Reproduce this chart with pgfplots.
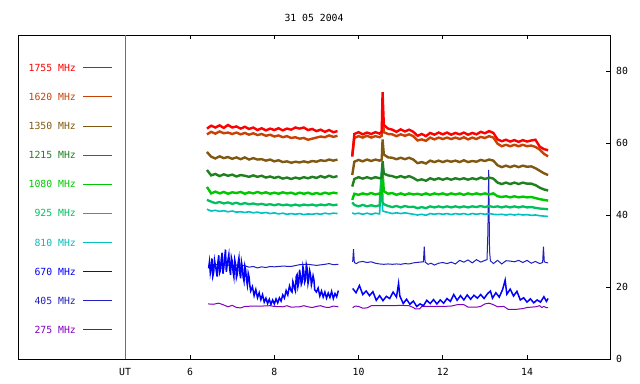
\documentclass[border=0pt]{standalone}
\usepackage{pgfplots}
\usepackage{pgfplotstable}
\pgfplotsset{compat=1.18}
\usepackage{fontspec}
\newfontfamily\mono{DejaVu Sans Mono}
\newcommand\lf{\mono\fontsize{9.8bp}{11bp}\selectfont}
\definecolor{c1755}{RGB}{255,0,0}
\definecolor{c1620}{RGB}{200,66,4}
\definecolor{c1350}{RGB}{128,88,16}
\definecolor{c1215}{RGB}{32,128,32}
\definecolor{c1080}{RGB}{0,200,0}
\definecolor{c925}{RGB}{0,192,96}
\definecolor{c810}{RGB}{0,192,192}
\definecolor{c670}{RGB}{0,0,255}
\definecolor{c405}{RGB}{32,32,192}
\definecolor{c275}{RGB}{128,0,192}
\definecolor{utgray}{RGB}{110,110,110}

\pgfplotstableread{
x     a     b     c     d     e     f     g
6.40 64.0 62.4 57.5 52.5 47.8 44.2 41.6
6.50 64.8 63.1 56.2 51.0 46.0 43.7 41.1
6.60 64.3 62.6 55.7 51.4 46.5 43.3 41.3
6.70 64.9 63.2 56.3 50.8 46.0 43.6 41.0
6.80 64.2 62.7 55.8 51.3 46.4 43.2 41.2
6.90 65.0 62.9 56.1 50.9 45.9 43.5 40.9
7.00 64.3 62.5 55.6 51.2 46.3 43.1 41.1
7.10 64.6 62.9 56.0 50.7 46.1 43.4 40.8
7.20 64.0 62.4 55.5 51.1 46.4 43.0 40.9
7.30 64.5 62.8 56.0 50.9 45.9 43.3 40.7
7.40 63.9 62.3 55.4 50.6 46.3 43.0 40.9
7.50 64.3 62.7 55.8 51.0 46.0 43.2 40.6
7.60 63.6 62.2 55.4 50.6 46.4 42.9 40.8
7.70 64.1 62.5 55.5 50.9 46.0 43.1 40.5
7.80 63.5 62.0 55.1 50.4 46.3 42.8 40.7
7.90 64.0 62.3 55.4 50.7 45.9 43.0 40.4
8.00 63.6 61.8 54.9 50.3 46.2 42.7 40.6
8.10 64.1 62.1 55.2 50.6 45.9 43.0 40.3
8.20 63.5 61.6 54.7 50.1 46.3 42.7 40.5
8.30 64.0 61.9 54.9 50.4 46.0 42.9 40.2
8.40 63.7 61.4 54.5 50.0 46.2 42.6 40.4
8.50 64.3 61.6 54.8 50.4 45.8 42.9 40.2
8.60 64.0 61.2 54.6 50.1 46.2 42.6 40.4
8.70 64.3 61.4 54.9 50.5 45.9 42.9 40.1
8.80 63.6 60.9 54.6 50.2 46.2 42.7 40.3
8.90 63.9 61.2 55.0 50.6 45.8 42.9 40.2
9.00 63.3 61.5 54.8 50.3 46.1 42.6 40.4
9.10 63.7 61.8 55.2 50.8 45.8 42.9 40.2
9.20 63.1 61.6 55.0 50.4 46.2 42.7 40.5
9.30 63.6 62.1 55.4 50.9 45.9 43.0 40.3
9.40 63.0 61.7 55.1 50.5 46.2 42.7 40.5
9.50 63.3 62.0 55.4 50.8 46.0 42.9 40.4
9.60 nan nan nan nan nan nan nan
9.85 56.2 56.5 51.1 47.9 44.2 43.5 40.6
9.90 62.5 61.4 54.8 50.0 45.9 42.8 40.3
10.00 63.0 61.9 55.3 50.5 45.6 42.4 40.5
10.10 62.4 61.5 54.9 50.1 46.0 42.8 40.2
10.20 62.9 62.0 55.4 50.5 45.7 42.4 40.5
10.30 62.5 61.5 55.0 50.1 46.1 42.7 40.2
10.40 63.0 61.9 55.4 50.5 45.7 42.4 40.5
10.50 62.6 61.6 55.1 50.2 46.0 42.7 40.3
10.55 63.2 62.0 55.4 50.4 46.0 52.0 53.4
10.57 74.1 68.2 61.0 55.0 52.0 43.5 41.2
10.60 65.0 63.0 56.8 51.5 46.6 43.0 41.0
10.70 64.0 62.5 56.0 51.0 45.9 42.5 40.7
10.80 63.7 62.4 55.9 50.8 46.1 42.2 40.4
10.90 63.1 61.9 55.5 50.4 45.6 42.5 40.6
11.00 63.8 62.4 55.9 50.8 46.0 42.1 40.4
11.10 63.2 62.0 55.5 50.4 45.6 42.5 40.6
11.20 63.7 62.4 55.9 50.8 46.0 42.2 40.4
11.30 63.1 61.9 55.4 50.3 45.7 42.3 40.2
11.40 62.0 60.7 54.4 49.6 45.9 41.9 40.0
11.50 62.5 61.0 54.7 49.9 45.6 42.2 40.2
11.60 61.9 60.6 54.3 49.5 46.0 41.9 39.9
11.70 62.8 61.5 55.1 50.2 45.6 42.4 40.4
11.80 62.3 61.0 54.7 49.8 46.0 42.1 40.2
11.90 62.9 61.5 55.1 50.2 45.7 42.4 40.4
12.00 62.4 61.1 54.7 49.8 46.0 42.1 40.2
12.10 62.9 61.5 55.1 50.2 45.6 42.4 40.4
12.20 62.3 61.1 54.8 49.8 46.0 42.1 40.1
12.30 62.8 61.5 55.1 50.2 45.7 42.4 40.4
12.40 62.4 61.1 54.7 49.9 46.0 42.1 40.2
12.50 62.9 61.6 55.2 50.2 45.6 42.4 40.4
12.60 62.3 61.0 54.7 49.8 46.0 42.1 40.1
12.70 62.8 61.5 55.0 50.2 45.7 42.4 40.4
12.80 62.4 61.1 54.8 49.9 46.0 42.2 40.2
12.90 63.1 61.7 55.3 50.4 45.7 42.5 40.4
13.00 62.7 61.4 55.0 50.0 46.0 42.2 40.2
13.10 63.3 61.9 55.4 50.4 45.7 42.5 40.4
13.20 62.8 61.5 55.1 50.1 46.0 42.2 40.2
13.30 61.0 59.8 53.8 49.0 45.2 42.4 40.1
13.40 60.5 59.1 53.3 48.6 45.0 42.1 40.2
13.50 60.9 59.5 53.7 49.0 45.2 42.4 40.0
13.60 60.4 59.1 53.3 48.6 44.9 42.1 40.2
13.70 60.8 59.5 53.7 49.0 45.2 42.4 40.0
13.80 60.3 59.1 53.3 48.6 44.9 42.1 40.2
13.90 60.8 59.5 53.7 49.0 45.1 42.4 40.0
14.00 60.4 59.1 53.4 48.7 44.9 42.1 40.1
14.10 60.7 59.3 53.5 48.7 45.0 42.2 39.9
14.20 60.9 58.9 53.0 48.3 44.7 42.0 40.0
14.30 59.0 58.2 52.3 47.6 44.4 41.8 39.8
14.40 58.3 57.0 51.6 47.1 44.2 41.7 39.7
14.50 58.0 56.3 51.1 46.8 44.0 41.6 39.6
}\hf

\pgfplotstableread{
x y
6.44 25.2
6.46 27.0
6.48 23.8
6.50 25.1
6.52 27.9
6.54 23.0
6.56 24.1
6.58 27.4
6.60 26.0
6.62 24.7
6.64 22.9
6.66 26.8
6.68 28.8
6.70 23.9
6.72 24.6
6.74 27.8
6.76 29.5
6.78 23.7
6.80 25.3
6.82 28.0
6.84 30.4
6.86 24.2
6.88 26.1
6.90 27.6
6.92 29.0
6.94 25.0
6.96 23.4
6.98 28.2
7.00 27.2
7.02 24.3
7.04 22.8
7.06 27.5
7.08 26.3
7.10 22.6
7.12 23.5
7.14 26.7
7.16 28.1
7.18 24.0
7.20 22.4
7.22 26.9
7.24 25.5
7.26 22.7
7.28 21.6
7.30 25.8
7.32 24.7
7.34 21.9
7.36 20.5
7.38 23.8
7.40 22.8
7.42 20.3
7.44 18.9
7.48 20.1
7.52 17.6
7.56 19.3
7.60 17.0
7.64 18.4
7.68 16.5
7.72 17.9
7.76 15.8
7.80 16.9
7.84 15.4
7.88 16.6
7.92 15.2
7.96 16.4
8.00 15.3
8.04 16.7
8.08 15.6
8.12 17.0
8.16 16.1
8.20 17.8
8.24 16.9
8.28 19.0
8.32 17.8
8.36 20.3
8.40 18.9
8.42 18.6
8.44 21.5
8.46 20.7
8.48 19.6
8.50 18.9
8.52 22.9
8.54 23.4
8.56 20.1
8.58 21.2
8.60 24.8
8.62 23.0
8.64 20.7
8.66 21.4
8.68 25.6
8.70 24.3
8.72 21.3
8.74 22.0
8.76 26.2
8.78 25.1
8.80 21.0
8.82 22.3
8.84 24.5
8.86 23.3
8.88 20.6
8.90 21.7
8.92 23.1
8.94 22.0
8.96 19.2
9.00 18.6
9.04 19.7
9.08 17.5
9.12 18.9
9.16 17.2
9.20 18.6
9.24 16.9
9.28 18.3
9.32 17.1
9.36 18.8
9.40 16.8
9.44 18.2
9.48 17.3
9.52 19.0
9.60 nan
9.86 19.6
9.94 18.4
10.02 20.4
10.10 17.9
10.18 18.9
10.26 17.6
10.34 18.7
10.42 16.3
10.50 17.6
10.58 16.2
10.66 17.4
10.74 16.8
10.82 18.6
10.90 17.2
10.95 21.0
10.98 17.5
11.06 15.4
11.14 16.6
11.22 15.2
11.30 16.1
11.38 14.6
11.46 15.3
11.54 14.8
11.62 16.3
11.70 15.4
11.78 16.5
11.86 15.3
11.94 16.4
12.02 15.5
12.10 16.8
12.18 16.0
12.26 17.9
12.34 16.3
12.42 17.6
12.50 16.4
12.58 17.8
12.66 16.6
12.74 17.7
12.82 16.9
12.90 17.9
12.98 16.8
13.06 18.1
13.13 18.9
13.18 16.9
13.26 18.4
13.34 17.2
13.42 19.3
13.48 21.9
13.52 18.0
13.60 19.4
13.68 17.5
13.76 18.8
13.84 16.4
13.92 17.0
14.00 15.8
14.08 16.7
14.16 15.6
14.24 16.4
14.32 15.8
14.40 17.3
14.46 16.0
14.50 16.8
}\sixseventy

\pgfplotstableread{
x y
6.43 26.0
6.60 26.2
6.80 26.1
7.00 26.0
7.20 26.1
7.30 25.9
7.40 25.5
7.50 25.7
7.60 25.3
7.70 25.6
7.80 25.4
7.90 25.7
8.00 25.6
8.20 25.8
8.40 25.7
8.60 26.2
8.80 26.3
9.00 26.0
9.20 26.3
9.30 26.5
9.40 26.2
9.52 26.3
9.60 nan
9.86 27.0
9.88 30.5
9.90 26.8
9.95 26.5
10.00 26.9
10.10 27.1
10.20 26.8
10.30 27.0
10.40 26.6
10.50 26.4
10.60 26.3
10.70 26.4
10.80 26.3
10.90 26.4
11.00 26.3
11.10 26.5
11.20 26.4
11.30 26.7
11.45 26.9
11.54 27.0
11.56 31.2
11.58 26.9
11.65 26.3
11.72 26.6
11.80 26.1
11.90 26.6
12.00 26.8
12.10 26.5
12.20 26.9
12.30 26.4
12.40 27.4
12.50 26.9
12.60 27.5
12.70 26.7
12.80 27.6
12.90 26.9
13.00 27.4
13.05 27.6
13.07 35.0
13.09 52.5
13.11 30.0
13.13 27.3
13.20 26.5
13.30 27.4
13.40 26.4
13.50 27.3
13.60 27.2
13.70 27.0
13.80 27.4
13.90 26.8
14.00 27.4
14.10 26.6
14.20 27.1
14.30 26.5
14.37 26.8
14.39 31.2
14.41 27.0
14.45 26.8
14.50 26.7
}\fourofive

\pgfplotstableread{
x y
6.43 15.3
6.55 15.2
6.68 15.5
6.78 15.1
6.90 14.5
7.00 14.9
7.10 14.3
7.20 14.2
7.30 14.6
7.50 14.7
7.70 14.7
7.90 14.8
8.00 14.6
8.20 14.5
8.30 14.8
8.40 14.4
8.60 14.5
8.70 14.8
8.80 14.5
8.90 14.3
9.00 14.6
9.10 14.8
9.20 14.4
9.30 14.3
9.40 14.7
9.52 14.5
9.60 nan
9.86 14.25
9.92 14.7
10.00 14.6
10.10 14.1
10.20 14.2
10.30 14.8
10.50 14.8
10.80 14.8
11.00 14.9
11.20 14.8
11.30 14.3
11.35 13.9
11.45 13.9
11.50 14.6
11.80 14.6
12.00 14.6
12.20 14.7
12.35 15.1
12.50 15.1
12.60 14.4
12.80 14.4
12.90 14.6
13.00 15.3
13.10 15.5
13.20 15.1
13.30 14.5
13.45 14.6
13.55 13.8
13.75 13.8
13.90 14.0
14.00 14.3
14.10 14.4
14.20 14.5
14.30 14.8
14.35 14.3
14.40 14.6
14.45 14.3
14.50 14.3
}\twoseventyfive

\begin{document}
\begin{tikzpicture}
\begin{axis}[
  scale only axis, width=592bp, height=324bp,
  xmin=1.914, xmax=15.97, ymin=0, ymax=90,
  axis line style={line width=0.9bp},
  xtick={6,8,10,12,14},
  extra x ticks={4.456}, extra x tick labels={UT},
  extra x tick style={major tick length=0pt},
  ytick={0,20,40,60,80}, ytick pos=right,
  tick align=inside, major tick length=4bp,
  tick style={black, line width=0.9bp},
  /pgf/number format/assume math mode=true,
  ticklabel style={font=\lf},
  xticklabel style={anchor=north, inner sep=0pt, yshift=-9.5bp},
  yticklabel style={anchor=west, inner sep=0pt, xshift=6bp},
  unbounded coords=jump,
]
\addplot[utgray, line width=0.9bp] coordinates {(4.456,0) (4.456,90)};

\addplot[c275, line width=1bp] table[x=x,y=y] {\twoseventyfive};
\addplot[c405, line width=1bp] table[x=x,y=y] {\fourofive};
\addplot[c670, line width=1.5bp] table[x=x,y=y] {\sixseventy};
\addplot[c810, line width=1.6bp] table[x=x,y=g] {\hf};
\addplot[c925, line width=2.3bp] table[x=x,y=f] {\hf};
\addplot[c1080, line width=2.4bp] table[x=x,y=e] {\hf};
\addplot[c1215, line width=2.4bp] table[x=x,y=d] {\hf};
\addplot[c1350, line width=2.4bp] table[x=x,y=c] {\hf};
\addplot[c1620, line width=2.4bp] table[x=x,y=b] {\hf};
\addplot[c1755, line width=2.4bp] table[x=x,y=a] {\hf};

% legend lines
\addplot[c1755, line width=1bp] coordinates {(3.458,80.9) (4.147,80.9)};
\addplot[c1620, line width=1bp] coordinates {(3.458,72.8) (4.147,72.8)};
\addplot[c1350, line width=1bp] coordinates {(3.458,64.7) (4.147,64.7)};
\addplot[c1215, line width=1bp] coordinates {(3.458,56.6) (4.147,56.6)};
\addplot[c1080, line width=1bp] coordinates {(3.458,48.5) (4.147,48.5)};
\addplot[c925, line width=1bp] coordinates {(3.458,40.45) (4.147,40.45)};
\addplot[c810, line width=1bp] coordinates {(3.458,32.36) (4.147,32.36)};
\addplot[c670, line width=1bp] coordinates {(3.458,24.27) (4.147,24.27)};
\addplot[c405, line width=1bp] coordinates {(3.458,16.18) (4.147,16.18)};
\addplot[c275, line width=1bp] coordinates {(3.458,8.09) (4.147,8.09)};

\node[anchor=east, inner sep=0pt, text=c1755] at (axis cs:3.292,80.9) {\lf 1755 MHz};
\node[anchor=east, inner sep=0pt, text=c1620] at (axis cs:3.292,72.8) {\lf 1620 MHz};
\node[anchor=east, inner sep=0pt, text=c1350] at (axis cs:3.292,64.7) {\lf 1350 MHz};
\node[anchor=east, inner sep=0pt, text=c1215] at (axis cs:3.292,56.6) {\lf 1215 MHz};
\node[anchor=east, inner sep=0pt, text=c1080] at (axis cs:3.292,48.5) {\lf 1080 MHz};
\node[anchor=east, inner sep=0pt, text=c925] at (axis cs:3.292,40.45) {\lf 925 MHz};
\node[anchor=east, inner sep=0pt, text=c810] at (axis cs:3.292,32.36) {\lf 810 MHz};
\node[anchor=east, inner sep=0pt, text=c670] at (axis cs:3.292,24.27) {\lf 670 MHz};
\node[anchor=east, inner sep=0pt, text=c405] at (axis cs:3.292,16.18) {\lf 405 MHz};
\node[anchor=east, inner sep=0pt, text=c275] at (axis cs:3.292,8.09) {\lf 275 MHz};
\end{axis}
\node[inner sep=0pt, anchor=center] at ([yshift=16.7bp]current axis.north) {\lf 31 05 2004};
\pgfresetboundingbox
\path ([shift={(-18bp,-25bp)}]current axis.south west) rectangle ([shift={(30bp,35bp)}]current axis.north east);
\end{tikzpicture}
\end{document}
